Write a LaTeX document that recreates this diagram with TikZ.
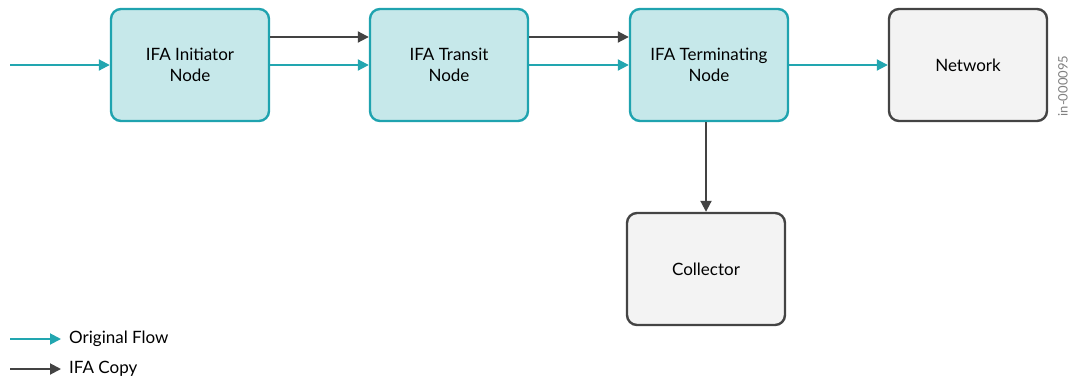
\documentclass[tikz,border=0pt]{standalone}
\usepackage{fontspec}
\setmainfont{Lato}
\usetikzlibrary{arrows.meta,positioning}

\definecolor{ifafill}{HTML}{C6E8EA}
\definecolor{ifaline}{HTML}{1FA3AF}
\definecolor{boxfill}{HTML}{F3F3F3}
\definecolor{boxline}{HTML}{444444}
\definecolor{flowcol}{HTML}{22A6B0}
\definecolor{copycol}{HTML}{434343}

\tikzset{
  ifabox/.style={draw=ifaline, fill=ifafill, line width=2.4pt, rounded corners=10pt,
    minimum width=158pt, minimum height=112pt, inner sep=0pt, align=center,
    font=\fontsize{17}{21}\selectfont},
  plainbox/.style={ifabox, draw=boxline, fill=boxfill},
  flow/.style={draw=flowcol, line width=2pt, -{Triangle[length=11pt,width=11pt]}},
  copy/.style={draw=copycol, line width=2pt, -{Triangle[length=11pt,width=11pt]}},
  legendtext/.style={anchor=west, inner sep=0pt, font=\fontsize{17}{20}\selectfont}
}

\begin{document}
\begin{tikzpicture}[x=1pt, y=-1pt]
    \useasboundingbox (0,0) rectangle (1070,381);

    % Boxes
    \node[ifabox] (init) at (190,65) {IFA Initiator\\Node};
    \node[ifabox] (transit) at (449,65) {IFA Transit\\Node};
    \node[ifabox] (term) at (709,65) {IFA Terminating\\Node};
    \node[plainbox] (net) at (968,65) {Network};
    \node[plainbox] (coll) at (706,269) {Collector};

    % Original flow
    \coordinate (src) at (10,65);
    \draw[flow] (src) -- (init.west);
    \draw[flow] (init.east) -- (transit.west);
    \draw[flow] (transit.east) -- (term.west);
    \draw[flow] (term.east) -- (net.west);

    % IFA copy
    \draw[copy] ([yshift=28pt]init.east) -- ([yshift=28pt]transit.west);
    \draw[copy] ([yshift=28pt]transit.east) -- ([yshift=28pt]term.west);
    \draw[copy] (term.south -| coll.north) -- (coll.north);

    % Legend
    \coordinate (flowa) at (10,339);
    \coordinate (flowb) at (61,339);
    \coordinate (copya) at (10,369);
    \coordinate (copyb) at (61,369);
    \draw[flow] (flowa) -- (flowb);
    \draw[copy] (copya) -- (copyb);
    \node[legendtext] (flowtxt) at (69,339) {Original Flow};
    \node[legendtext] (copytxt) at (69,369) {IFA Copy};

    % Figure id
    \node[rotate=90, text=gray, font=\fontsize{13}{15}\selectfont, inner sep=0pt] (figid) at (1063,86) {in-000095};
\end{tikzpicture}
\end{document}
